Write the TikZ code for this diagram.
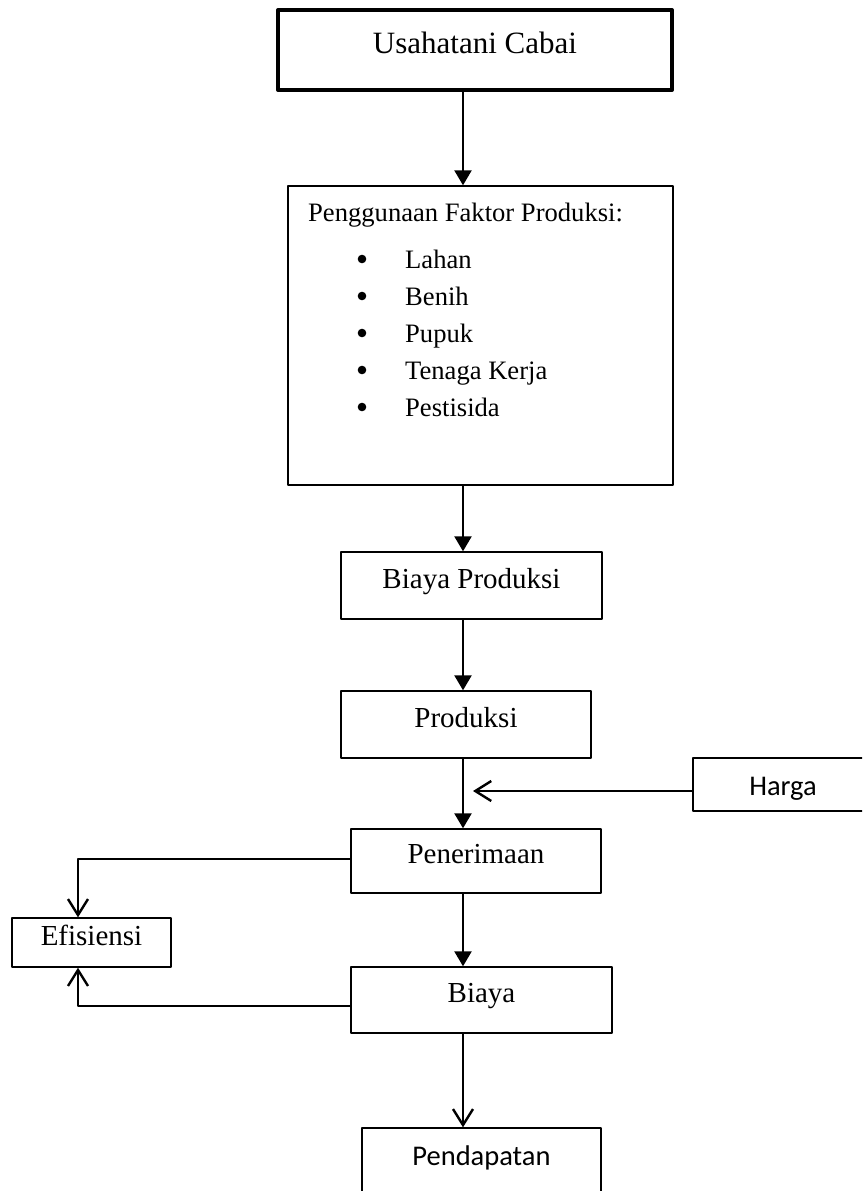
\documentclass[tikz,border=0pt]{standalone}
\usepackage{fontspec}
\setmainfont{Liberation Serif}
\newfontfamily\calibri{Carlito}
\usetikzlibrary{arrows.meta}
\begin{document}
\begin{tikzpicture}[x=1pt,y=-1pt,line join=round,
		box/.style={draw,line width=1.4pt,inner sep=0pt,text height=18pt,text depth=13pt,font=\fontsize{29}{34}\selectfont},
		list/.style={anchor=base west,inner sep=0pt,font=\fontsize{26.6}{32}\selectfont},
		fillarrow/.style={line width=2.4pt,-{Triangle[width=17pt,length=15pt]}},
		openarrow/.style={line width=2.4pt,-{Straight Barb[width=20pt,length=16pt,line width=2.4pt]}}]
	\clip (0,0) rectangle (862,1191);
	\fill[white] (0,0) rectangle (862,1191);
	\coordinate (spine) at (463,0);
	\coordinate (efx) at (78,0);
	% kotak-kotak
	\node[box,line width=4pt,text height=20pt,text depth=14pt,font=\fontsize{31}{36}\selectfont,minimum width=394pt,minimum height=80pt] (usaha) at (475,50) {Usahatani Cabai};
	\node[draw,line width=1.4pt,minimum width=385pt,minimum height=299pt] (faktor) at (480.5,335.5) {};
	\node[list] (judul) at (308,221) {Penggunaan Faktor Produksi:};
	\foreach \item [count=\i] in {Lahan,Benih,Pupuk,Tenaga Kerja,Pestisida}{
		\fill (362,{222+37*\i}) circle (4.3pt);
		\node[list] (item\i) at (405,{231+37*\i}) {\item};
	}
	\node[box,minimum width=261pt,minimum height=67pt] (bprod) at (471.5,585.5) {Biaya Produksi};
	\node[box,minimum width=250pt,minimum height=67pt] (prod) at (466,724.5) {Produksi};
	\node[box,font=\calibri\fontsize{28.5}{34}\selectfont,text height=24pt,text depth=3pt,minimum width=180pt,minimum height=53pt] (harga) at (783,784.5) {Harga};
	\node[box,minimum width=250pt,minimum height=64pt] (terima) at (476,861) {Penerimaan};
	\node[box,minimum width=159pt,minimum height=49pt] (efisiensi) at (91.5,942.5) {Efisiensi};
	\node[box,minimum width=261pt,minimum height=66pt] (biaya) at (481.5,1000) {Biaya};
	\node[box,font=\calibri\fontsize{28.5}{34}\selectfont,text height=10pt,text depth=16pt,minimum width=239pt,minimum height=80pt] (pendapatan) at (481.5,1168) {Pendapatan};
	% panah
	\draw[fillarrow] (usaha.south -| spine)--(faktor.north -| spine);
	\draw[fillarrow] (faktor.south -| spine)--(bprod.north -| spine);
	\draw[fillarrow] (bprod.south -| spine)--(prod.north -| spine);
	\draw[fillarrow] (prod.south -| spine)--(terima.north -| spine);
	\draw[fillarrow] (terima.south -| spine)--(biaya.north -| spine);
	\draw[openarrow] (biaya.south -| spine)--(pendapatan.north -| spine);
	\coordinate (hargatip) at (473,791);
	\draw[openarrow] (harga.west |- hargatip)--(hargatip);
	\draw[openarrow] ([yshift=2pt]terima.west) -| (efisiensi.north -| efx);
	\draw[openarrow] ([yshift=-6pt]biaya.west) -| (efisiensi.south -| efx);
\end{tikzpicture}
\end{document}
